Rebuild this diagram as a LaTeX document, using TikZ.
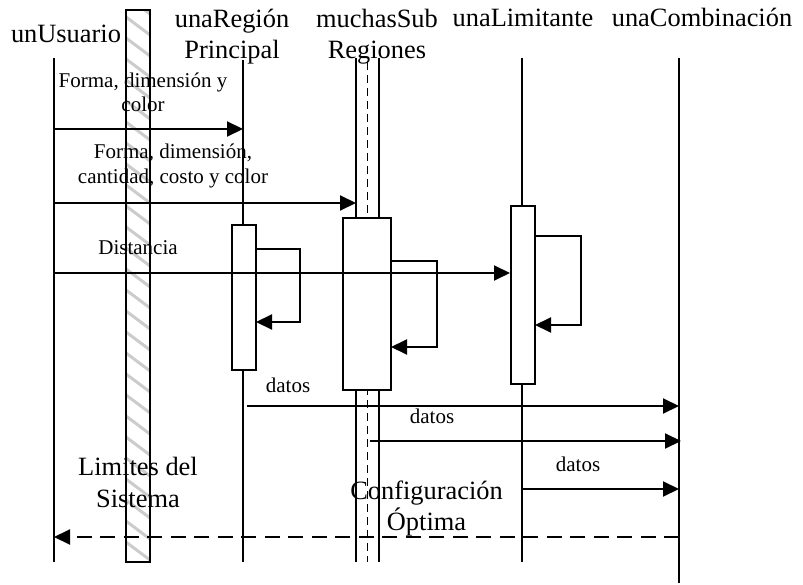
\documentclass[tikz,border=0pt]{standalone}
\usepackage{fontspec}
\setmainfont{Liberation Serif}
\usetikzlibrary{arrows.meta,calc}

\begin{document}
\begin{tikzpicture}[x=1pt,y=-1pt,
  ln/.style={line width=2pt},
  msg/.style={line width=2pt,-{Triangle[length=16pt,width=15pt]}},
  ret/.style={msg,dash pattern=on 15pt off 8.5pt},
  inner/.style={line width=1.7pt,dash pattern=on 8pt off 5pt},
  actbox/.style={draw,fill=white,line width=2pt,inner sep=0pt},
  head/.style={font=\fontsize{26.4}{31.5}\selectfont,inner sep=0pt,align=center},
  lbl/.style={font=\fontsize{21}{24.5}\selectfont,inner sep=0pt,align=center},
  stripes/.style={line width=3pt,black!20},
]
\useasboundingbox (0,0) rectangle (803,585);

% system boundary: hatched bar
\node[draw,line width=2pt,inner sep=0pt,minimum width=24pt,minimum height=552pt,
  path picture={
    \foreach \k in {0,...,28}
      \draw[stripes] ($(path picture bounding box.north west)+(-8,\k*21-20)$)
        -- ++(40,30);
  }] (bar) at (138,286) {};

% lifeline end points
\coordinate (u-top) at (54,58);   \coordinate (u-bot) at (54,562);
\coordinate (r-top) at (243,60);  \coordinate (r-bot) at (243,562);
\coordinate (s1-top) at (356,58); \coordinate (s1-bot) at (356,562);
\coordinate (s2-top) at (379,58); \coordinate (s2-bot) at (379,562);
\coordinate (sc-top) at (367.5,62); \coordinate (sc-bot) at (367.5,562);
\coordinate (l-top) at (522,58);  \coordinate (l-bot) at (522,562);
\coordinate (c-top) at (679,58);  \coordinate (c-bot) at (679,583);

% lifelines
\draw[ln] (u-top) -- (u-bot);
\draw[ln] (r-top) -- (r-bot);
\draw[ln] (s1-top) -- (s1-bot);
\draw[ln] (s2-top) -- (s2-bot);
\draw[inner] (sc-top) -- (sc-bot);
\draw[ln] (l-top) -- (l-bot);
\draw[ln] (c-top) -- (c-bot);

% activation boxes
\node[actbox,minimum width=24pt,minimum height=145pt] (actR) at (244,297.5) {};
\node[actbox,minimum width=48pt,minimum height=172pt] (actS) at (367,304) {};
\node[actbox,minimum width=24pt,minimum height=178pt] (actL) at (523,295) {};

% messages from unUsuario
\coordinate (m1a) at (54,129);  \coordinate (m1b) at (243,129);
\coordinate (m2a) at (54,203);  \coordinate (m2b) at (356,203);
\coordinate (m3a) at (54,273);
\draw[msg] (m1a) -- (m1b);
\draw[msg] (m2a) -- (m2b);
\draw[msg] (m3a) -- (m3a -| actL.west);

% self messages
\coordinate (q1) at (256,249); \coordinate (q1r) at (300,249);
\coordinate (q1e) at (256,322);
\draw[msg] (q1) -- (q1r) |- (q1e);
\coordinate (q2) at (391,261); \coordinate (q2r) at (437,261);
\coordinate (q2e) at (391,347);
\draw[msg] (q2) -- (q2r) |- (q2e);
\coordinate (q3) at (535,236); \coordinate (q3r) at (581,236);
\coordinate (q3e) at (535,325);
\draw[msg] (q3) -- (q3r) |- (q3e);

% data messages to unaCombinación
\coordinate (d1a) at (247,406); \coordinate (d1b) at (679,406);
\coordinate (d2a) at (370,441); \coordinate (d2b) at (681,441);
\coordinate (d3a) at (522,489); \coordinate (d3b) at (679,489);
\draw[msg] (d1a) -- (d1b);
\draw[msg] (d2a) -- (d2b);
\draw[msg] (d3a) -- (d3b);

% result returned to unUsuario
\coordinate (rt-a) at (679,537); \coordinate (rt-b) at (54,537);
\draw[ret] (rt-a) -- (rt-b);

% lifeline headings (multi-line nodes sit on their last baseline)
\node[head,anchor=base] (hU) at (66,43) {unUsuario};
\node[head,anchor=base] (hR) at (232,59) {unaRegión\\Principal};
\node[head,anchor=base] (hS) at (377,59) {muchasSub\\Regiones};
\node[head,anchor=base] (hL) at (523,27) {unaLimitante};
\node[head,anchor=base] (hC) at (702,27) {unaCombinación};

% message labels
\node[lbl,anchor=base] (t1) at (143,111.7) {Forma, dimensión y\\color};
\node[lbl,anchor=base] (t2) at (173,183.5) {Forma, dimensión,\\cantidad, costo y color};
\node[lbl,anchor=base] (t3) at (138,255) {Distancia};
\node[lbl,anchor=base] (t4) at (288,392) {datos};
\node[lbl,anchor=base] (t5) at (432,423) {datos};
\node[lbl,anchor=base] (t6) at (578,471.7) {datos};
\node[head,anchor=base] (t7) at (138,507.3) {Limites del\\Sistema};
\node[head,anchor=base] (t8) at (426.5,530.7) {Configuración\\Óptima};
\end{tikzpicture}
\end{document}
